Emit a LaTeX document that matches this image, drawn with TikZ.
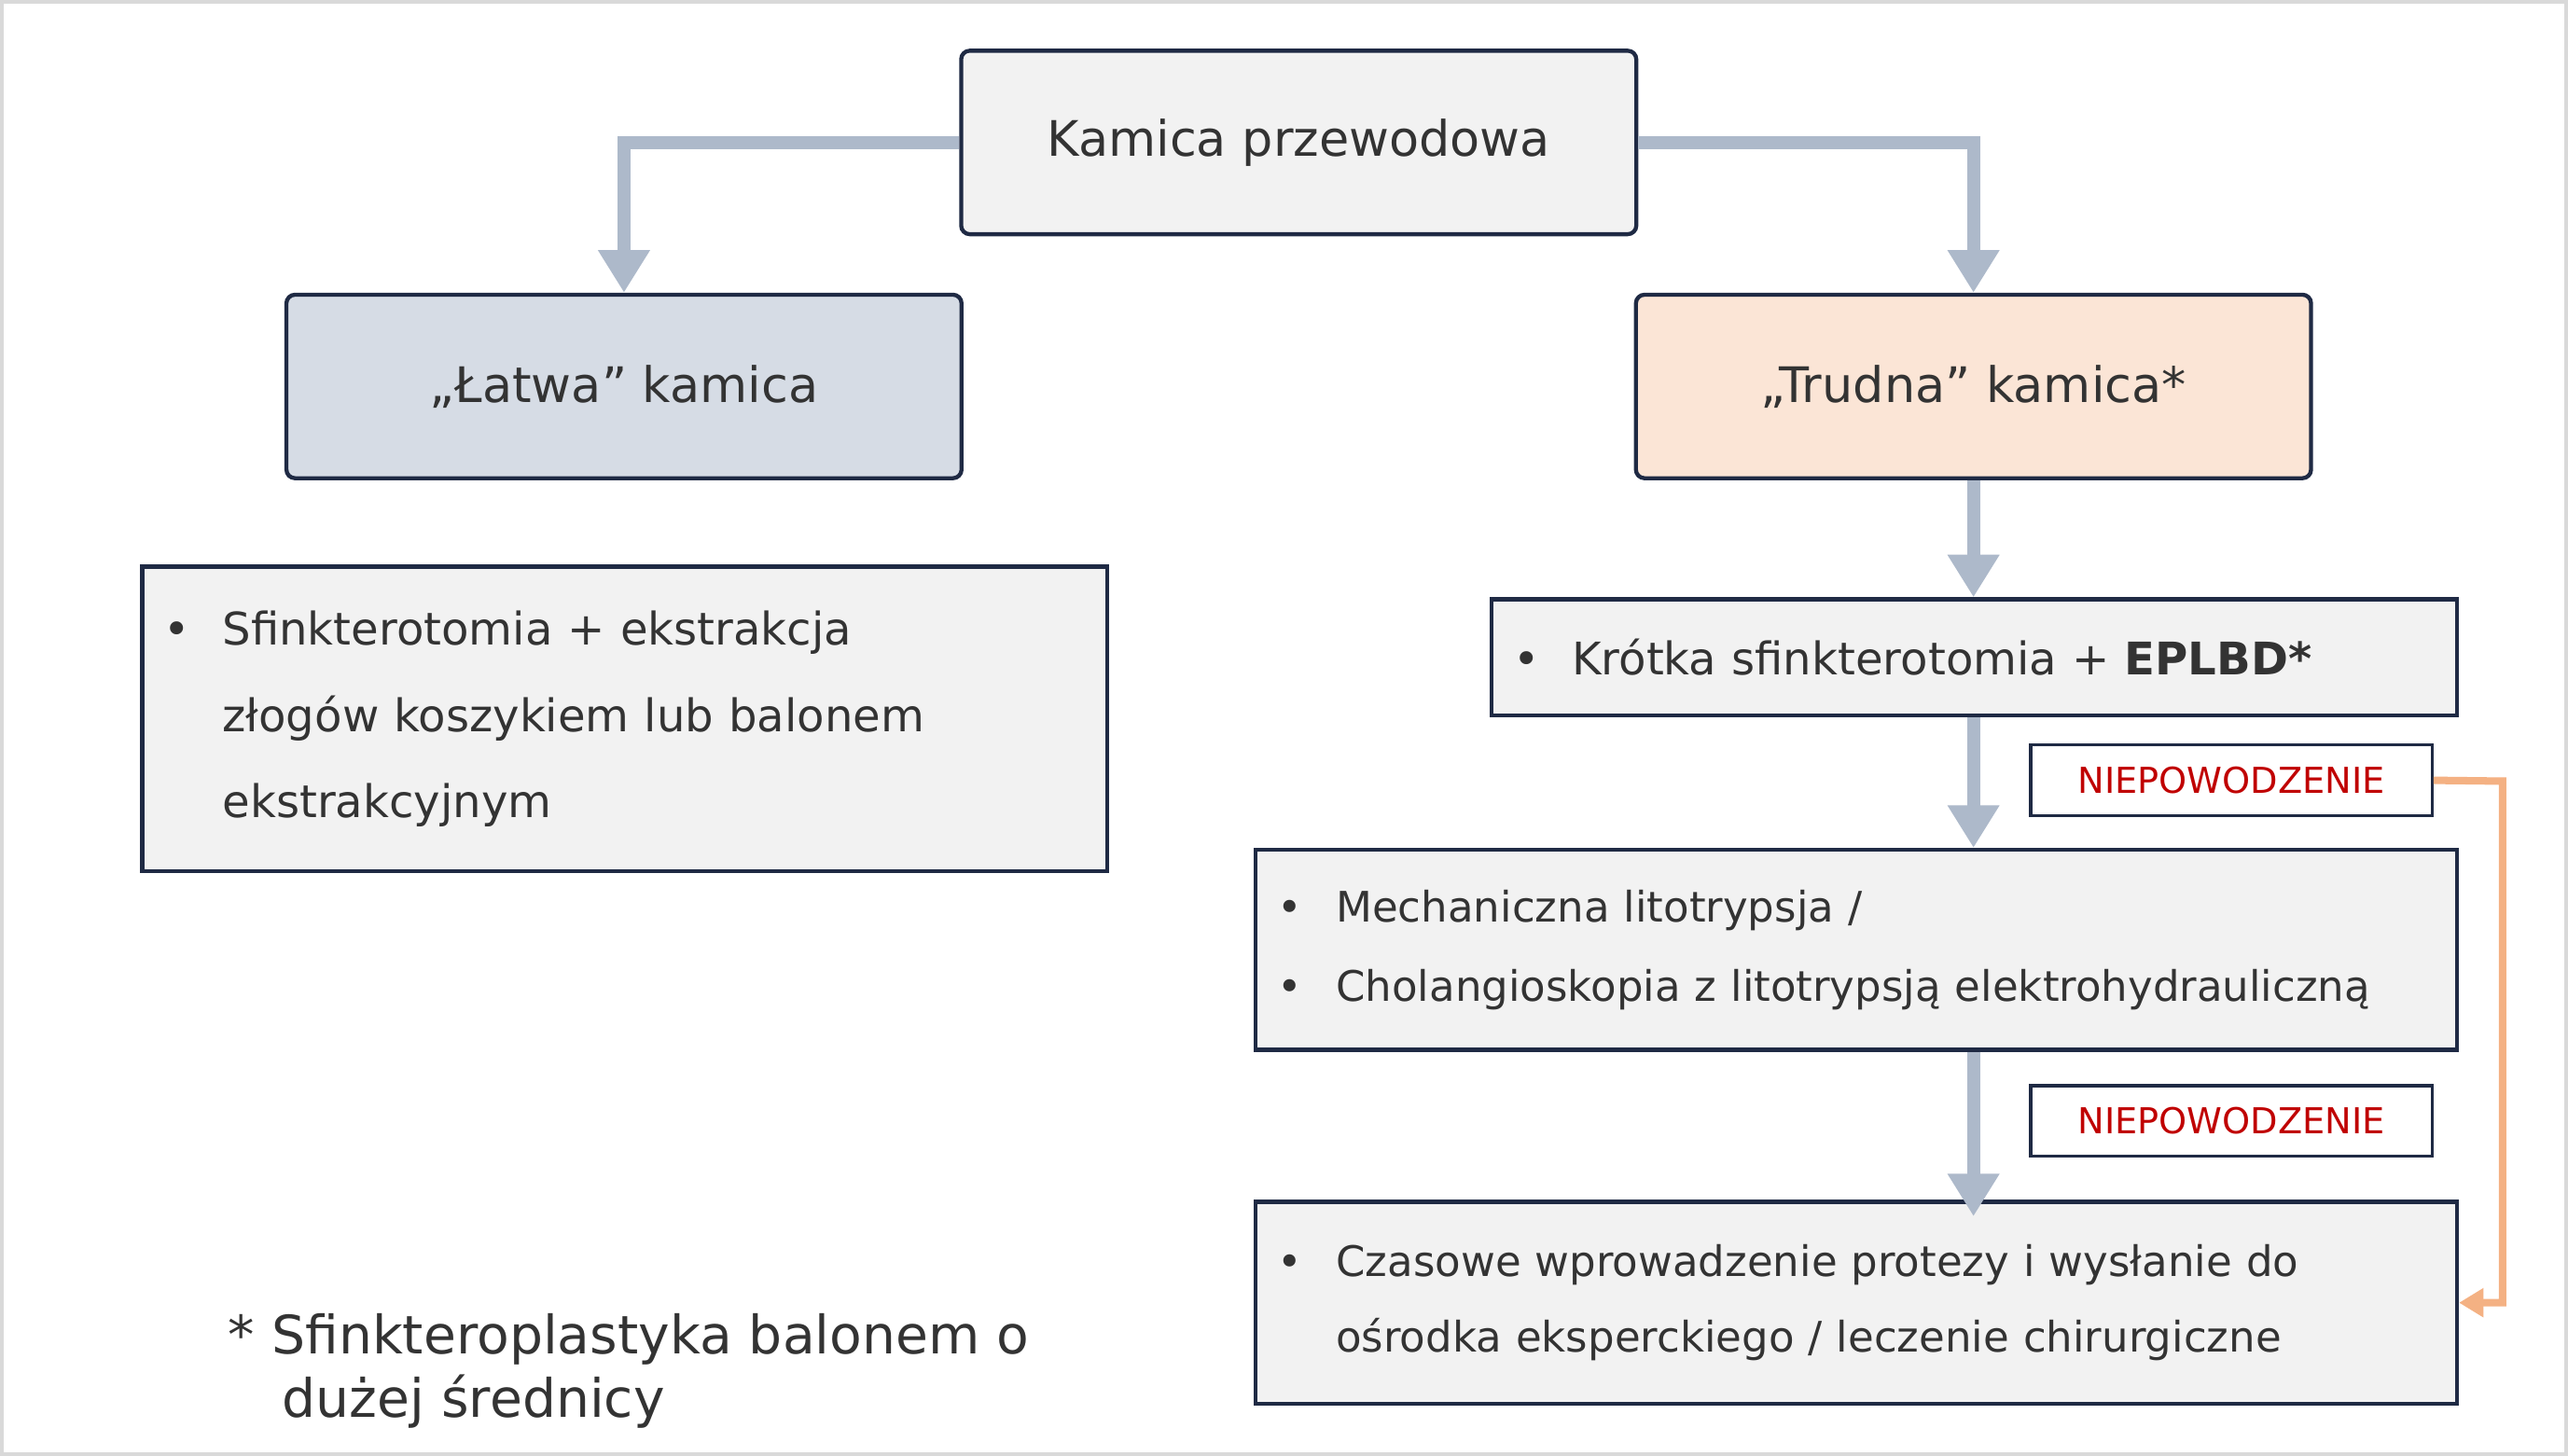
\documentclass[tikz,border=0pt]{standalone}
\usepackage{fontspec}
\setmainfont{DejaVu Sans}
\usetikzlibrary{arrows.meta}
\definecolor{navy}{HTML}{1F2A44}
\definecolor{boxgray}{HTML}{F2F2F2}
\definecolor{boxblue}{HTML}{D6DCE5}
\definecolor{boxpeach}{HTML}{FBE5D6}
\definecolor{flowgray}{HTML}{ADB9CA}
\definecolor{failred}{HTML}{C00000}
\definecolor{failorange}{HTML}{F4B183}
\newcommand{\blt}{\makebox[0.36cm][l]{\textbullet}}
\newcommand{\nob}{\makebox[0.36cm][l]{}}
\begin{document}
\begin{tikzpicture}[x=0.01cm,y=-0.01cm,
    head/.style={draw=navy, line width=0.7pt, rounded corners=1.5pt, minimum width=4.12cm, minimum height=1.12cm, font=\fontsize{8.5}{10}\selectfont, text=black!80},
    list/.style={draw=navy, line width=0.7pt, fill=boxgray, inner xsep=0.13cm, align=left, text=black!80},
    fail/.style={draw=navy, line width=0.5pt, fill=white, minimum width=2.45cm, minimum height=0.43cm, inner sep=0pt, font=\fontsize{6.2}{7}\selectfont, text=failred},
    flow/.style={draw=flowgray, line width=2.3pt, -{Triangle[length=0.26cm, width=0.3cm]}}]
    \useasboundingbox (0,0) rectangle (1568,889);
    \draw[black!15, line width=0.6pt] (1,1) rectangle (1567,888);
    % Headings
    \node[head, fill=boxgray] (Top) at (793,87) {Kamica przewodowa};
    \node[head, fill=boxblue] (Easy) at (381,236) {„Łatwa” kamica};
    \node[head, fill=boxpeach] (Hard) at (1205,236) {„Trudna” kamica*};
    % Lists
    \node[list, text width=5.63cm, minimum height=1.86cm, font=\fontsize{7.8}{15}\selectfont] (EasyList) at (381.5,439)
        {\blt Sfinkterotomia + ekstrakcja\\ \nob złogów koszykiem lub balonem\\ \nob ekstrakcyjnym};
    \node[list, text width=5.63cm, minimum height=0.71cm, font=\fontsize{7.8}{10}\selectfont] (Short) at (1205.5,401.5)
        {\blt Krótka sfinkterotomia + \textbf{EPLBD*}};
    \node[list, text width=7.07cm, minimum height=1.22cm, font=\fontsize{7.3}{13.7}\selectfont] (Litho) at (1133.5,580)
        {\blt Mechaniczna litotrypsja /\\ \blt Cholangioskopia z litotrypsją elektrohydrauliczną};
    \node[list, text width=7.07cm, minimum height=1.23cm, font=\fontsize{7.3}{13.1}\selectfont] (Stent) at (1133.5,795.5)
        {\blt Czasowe wprowadzenie protezy i wysłanie do\\ \nob ośrodka eksperckiego / leczenie chirurgiczne};
    % Failure tags
    \node[fail] (Fail1) at (1362.5,476.5) {NIEPOWODZENIE};
    \node[fail] (Fail2) at (1362.5,684.5) {NIEPOWODZENIE};
    % Arrows
    \draw[flow] (Top.west) -| (Easy.north);
    \draw[flow] (Top.east) -| (Hard.north);
    \draw[flow] (Hard.south) -- (Hard.south |- Short.north);
    \draw[flow] (Short.south -| Hard.south) -- (Hard.south |- Litho.north);
    \draw[flow] (Litho.south -| Hard.south) -- ([yshift=-0.1cm]Hard.south |- Stent.north);
    \coordinate (Bend) at (1528,477);
    \draw[failorange, line width=1.3pt, -{Triangle[length=0.15cm, width=0.17cm]}] (Fail1.east) -- (Bend) |- (Stent.east);
    % Footnote
    \node[anchor=north west, align=left, font=\fontsize{9.2}{11}\selectfont, text=black!80] (Note) at (127,790)
        {* Sfinkteroplastyka balonem o\\ \hspace{0.33cm}dużej średnicy};
\end{tikzpicture}
\end{document}
